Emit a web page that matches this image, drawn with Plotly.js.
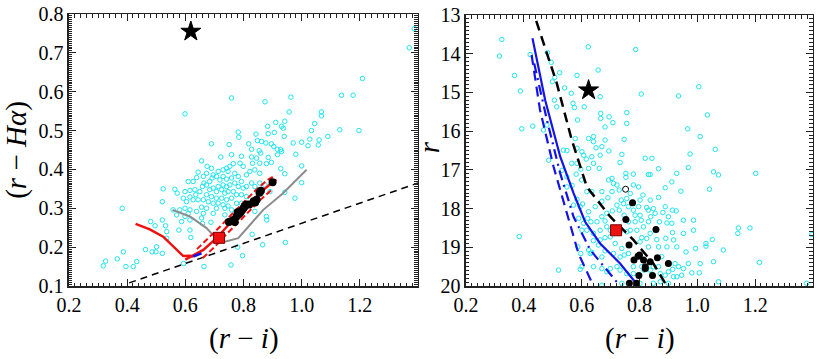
<!DOCTYPE html>
<html>
<head>
<meta charset="utf-8">
<script src="https://cdn.plot.ly/plotly-3.0.1.min.js"></script>
<style>
  body { margin: 0; background: #fff; }
  #plot { width: 830px; height: 359px; }
</style>
</head>
<body>
<div id="plot"></div>
<script>
// colour-colour panel: (r-i) vs (r-Halpha)
var ccCyanX = [1.387,1.37,0.599,0.759,0.874,0.963,1.209,1.137,1.177,1.068,1.068,0.957,1.131,1.197,1.09,1.045,1.034,1.06,1.028,1.022,1.057,1.0,0.971,0.98,1.0,1.0,0.942,0.942,0.977,0.944,0.866,0.83,0.797,0.78,0.757,0.664,0.594,0.318,0.326,0.366,0.396,0.421,0.433,0.387,0.463,0.486,0.501,0.499,0.521,0.383,0.481,0.496,0.521,0.521,0.524,0.532,0.536,0.536,0.578,0.587,0.616,0.616,0.619,0.659,0.688,0.942,0.931,0.937,0.94,0.928,0.931,0.928,0.88,
  0.69,0.782,0.784,0.751,0.843,0.883,0.911,0.906,0.885,0.848,0.862,0.877,0.896,0.904,0.916,0.917,0.818,0.828,0.854,0.859,0.759,0.793,0.828,0.845,0.885,0.896,0.879,0.856,0.831,0.722,0.656,0.765,0.788,0.799,0.742,0.753,0.747,0.73,0.713,0.696,0.675,0.673,0.69,0.644,0.639,0.627,0.61,0.564,0.572,0.599,0.616,0.633,0.636,0.65,0.662,0.664,0.659,0.673,0.684,0.692,0.707,0.719,0.73,0.742,0.759,0.77,0.782,0.793,0.81,0.822,0.839,0.856,0.828,0.839,0.856,0.874,0.891,0.81,0.799,0.782,0.77,0.753,0.742,0.73,0.713,0.696,0.684,0.707,0.725,0.736,0.747,0.765,0.776,0.793,0.81,0.759,0.742,0.725,0.707,0.69,0.673,0.662,0.644,0.627,0.616,0.604,0.593,0.679,0.696,0.713,0.73,0.747,0.776,0.793,0.673,0.656,0.707,0.736,0.759,0.696,0.662,0.639,0.616,0.599,0.581,0.558,0.57,0.61,0.736,0.776,0.839,0.879,0.599,0.656];
var ccCyanY = [0.762,0.713,0.543,0.584,0.574,0.586,0.634,0.591,0.591,0.548,0.538,0.548,0.502,0.5,0.485,0.518,0.5,0.476,0.478,0.461,0.463,0.47,0.468,0.439,0.409,0.366,0.389,0.341,0.326,0.212,0.206,0.233,0.178,0.2,0.154,0.15,0.158,0.152,0.164,0.17,0.15,0.15,0.163,0.188,0.194,0.188,0.201,0.188,0.184,0.3,0.266,0.255,0.27,0.317,0.35,0.255,0.223,0.24,0.244,0.266,0.27,0.244,0.225,0.261,0.264,0.524,0.511,0.506,0.485,0.451,0.446,0.402,0.27,
  0.466,0.496,0.483,0.464,0.491,0.511,0.521,0.495,0.492,0.474,0.472,0.468,0.466,0.459,0.452,0.438,0.466,0.452,0.448,0.442,0.438,0.434,0.432,0.429,0.431,0.418,0.415,0.416,0.416,0.432,0.422,0.415,0.416,0.408,0.403,0.408,0.395,0.399,0.395,0.386,0.408,0.39,0.403,0.393,0.379,0.369,0.369,0.349,0.339,0.343,0.346,0.348,0.335,0.343,0.382,0.365,0.356,0.36,0.369,0.378,0.382,0.373,0.382,0.375,0.378,0.39,0.382,0.369,0.386,0.395,0.399,0.39,0.365,0.356,0.365,0.36,0.343,0.356,0.352,0.356,0.365,0.36,0.356,0.36,0.356,0.352,0.348,0.343,0.348,0.339,0.343,0.343,0.335,0.335,0.33,0.326,0.322,0.326,0.326,0.33,0.335,0.322,0.322,0.322,0.329,0.317,0.326,0.317,0.313,0.313,0.309,0.306,0.313,0.313,0.3,0.303,0.3,0.3,0.296,0.287,0.287,0.292,0.296,0.3,0.296,0.296,0.283,0.287,0.283,0.283,0.292,0.279,0.279,0.275];

var ccDashX = [0.407, 1.4];
var ccDashY = [0.108, 0.365];
var ccGrayX = [0.556,0.616,0.673,0.702,0.736,0.782,0.822,0.868,0.936,1.017];
var ccGrayY = [0.296,0.279,0.249,0.2255,0.214,0.223,0.257,0.296,0.339,0.399];
var ccRedAX = [0.429,0.478,0.524,0.559,0.593,0.616,0.627];
var ccRedAY = [0.26,0.246,0.227,0.201,0.177,0.178,0.176];
var ccBlueX = [0.627,0.656];
var ccBlueY = [0.176,0.184];
var ccRedBX = [0.6,0.662,0.707,0.759,0.811,0.856,0.902,0.914];
var ccRedBY = [0.168,0.193,0.223,0.266,0.304,0.339,0.369,0.373];
var ccRedHiX = [0.64,0.68,0.72,0.76,0.8,0.84,0.88,0.91];
var ccRedHiY = [0.195,0.223,0.253,0.285,0.315,0.345,0.372,0.385];
var ccRedLoX = [0.66,0.7,0.74,0.78,0.82,0.86,0.9];
var ccRedLoY = [0.172,0.2,0.232,0.262,0.293,0.323,0.35];
var ccDotX = [0.765,0.776,0.78,0.79,0.8,0.81,0.82,0.835,0.845,0.855,0.86,0.9,0.785,0.77,0.795,0.805,0.84,0.75];
var ccDotY = [0.27,0.279,0.29,0.29,0.3,0.31,0.31,0.318,0.322,0.34,0.345,0.367,0.285,0.265,0.295,0.305,0.315,0.265];
var ccOpen = [0.747, 0.266];
var ccSquare = [0.716, 0.224];
var ccStar = [0.619, 0.755];

// colour-magnitude panel: (r-i) vs r
var cmCyanX = [0.324,0.316,0.368,0.388,0.393,0.384,0.422,0.431,0.482,0.495,0.499,0.507,0.524,0.541,0.564,0.584,0.609,0.57,0.575,0.586,0.623,0.657,0.664,0.666,0.666,0.681,0.708,0.756,0.747,0.787,0.806,0.935,1.005,1.035,0.967,1.01,1.062,0.975,0.969,0.929,0.912,0.889,0.943,1.042,1.056,1.073,1.202,1.142,1.14,1.182,1.215,1.396,1.378,1.09,1.052,1.03,1.03,0.994,0.987,0.961,0.929,0.914,0.891,0.881,0.914,0.927,0.854,0.839,0.831,0.825,0.843,0.82,0.831,0.866,0.779,0.753,0.753,0.733,0.739,0.694,0.67,0.681,0.641,0.65,0.664,0.635,0.607,0.601,0.616,0.641,0.661,0.624,0.597,0.581,0.6,0.618,0.635,0.67,0.693,0.705,0.71,0.722,0.73,0.705,0.691,0.67,0.647,0.624,0.603,0.595,0.572,0.584,0.549,0.737,0.745,0.756,0.762,0.779,0.797,0.785,0.802,0.806,0.785,0.762,0.747,0.73,0.722,0.706,0.687,0.67,0.681,0.653,0.632,0.618,0.641,0.664,0.687,0.699,0.699,0.681,0.733,0.756,0.768,0.791,0.814,0.831,0.837,0.825,0.808,0.802,0.831,0.86,0.866,0.877,0.739,0.747,0.762,0.733,0.71,0.716,0.681,0.67,0.658,0.635,0.624,0.601,0.641,0.67,0.699,0.687,0.722,0.733,0.756,0.779,0.779,0.808,0.816,0.837,0.848,0.866,0.872,0.889,0.9,0.915,0.923,0.935,0.946,0.952,0.969,0.981,1.007,1.01,1.056,1.073,0.918,0.929,0.9,0.848,0.872,0.802,0.739,0.67,0.52,0.595,0.63,0.597,0.587,0.641,0.601,0.59,0.607,0.621,0.664,0.567,0.549,0.532,0.584,0.566,0.549,0.537,0.506,0.514,0.48,0.468,0.486,0.578,0.584,0.624,0.641,0.695,0.756,0.837,0.866,0.889,0.779,0.797,0.812,0.768,0.802,0.837,0.848,0.869,0.895,0.912,0.9,0.952,0.987,0.952,0.918,0.895];
var cmCyanR = [13.63,14.06,14.56,14.96,15.94,18.72,14.02,15.87,13.97,14.22,14.72,14.61,14.49,14.88,15.02,14.56,15.37,15.28,15.39,15.71,13.82,14.42,15.11,15.54,15.67,15.89,15.78,15.8,16.21,13.89,15.04,15.09,14.85,15.58,15.94,16.14,16.47,16.59,16.94,17.09,17.31,17.46,17.55,17.5,17.05,17.13,17.09,18.5,18.64,18.5,19.39,18.67,19.93,19.07,18.8,18.9,18.97,19.03,18.56,19.12,18.99,18.62,18.77,18.1,18.04,18.06,18.12,18.21,18.04,17.97,16.7,16.7,17.12,16.97,17.11,17.09,17.19,16.81,16.6,16.51,16.4,16.23,16.27,16.43,16.62,16.66,16.62,16.53,16.72,16.83,16.96,16.96,16.98,17.11,17.26,17.56,17.56,17.56,17.26,17.22,17.35,17.39,17.52,17.56,17.72,17.81,17.95,18.08,17.88,17.95,17.91,17.76,17.44,17.78,17.87,17.74,17.95,18.04,17.95,18.17,18.17,18.3,18.34,18.34,18.17,18.04,17.91,18.06,18.12,18.21,18.32,18.34,18.34,18.56,18.64,18.56,18.47,18.56,18.73,18.75,18.6,18.6,18.56,18.56,18.47,18.34,18.64,18.77,18.75,18.86,18.99,18.8,18.99,19.24,19.03,19.2,19.16,19.25,19.16,18.9,19.09,19.25,18.94,19.13,19.07,19.5,19.5,19.55,19.55,19.63,19.5,19.59,19.68,19.68,19.5,19.5,19.59,19.59,19.5,19.5,19.68,19.72,19.63,19.57,19.42,19.5,19.72,19.55,19.42,19.66,19.66,19.42,19.37,19.89,19.76,19.76,19.93,19.93,19.89,19.93,19.93,19.98,19.59,19.57,19.16,19.16,18.99,18.83,18.56,18.25,18.38,18.25,18.81,17.4,17.18,17.01,16.83,16.83,16.5,16.49,15.2,15.37,15.84,15.97,16.75,16.19,16.44,16.19,16.14,15.63,15.52,17.12,17.71,17.95,17.39,17.44,17.65,17.61,17.78,17.78,18.0,18.34,18.37,18.38,18.21,18.3,18.3,18.64,18.81,18.99];

var cmDashX = [0.443,0.514,0.566,0.618,0.699,0.779,0.848,0.895];
var cmDashR = [13.15,14.76,16.23,17.44,18.21,18.81,19.42,20.0];
var cmBlueX = [0.43,0.474,0.526,0.572,0.612,0.664,0.733,0.796];
var cmBlueR = [13.6,15.2,16.66,17.6,18.34,18.9,19.42,20.0];
var cmBlueDotX = [0.436,0.48,0.526,0.572,0.63,0.687,0.733];
var cmBlueDotR = [14.25,15.71,17.09,18.21,19.07,19.59,20.0];
var cmBlueDashX = [0.427,0.456,0.503,0.549,0.589,0.641];
var cmBlueDashR = [14.03,15.45,16.92,18.12,19.16,20.0];
var cmDotX = [0.776,0.753,0.857,0.764,0.781,0.795,0.814,0.837,0.862,0.9,0.82,0.82,0.798,0.845,0.765,0.79,0.8];
var cmDotR = [17.85,18.28,18.54,18.94,19.33,19.23,19.33,19.37,19.27,19.42,19.5,19.55,19.73,19.73,19.93,19.93,19.2];
var cmOpen = [0.752, 17.5];
var cmSquare = [0.719, 18.56];
var cmStar = [0.624, 14.94];

var CYAN = '#1ee6ee';
var FONT = 'Liberation Serif, Times New Roman, serif';

function cyan(x, y, xa, ya) {
  return { x: x, y: y, xaxis: xa, yaxis: ya, type: 'scatter', mode: 'markers',
    marker: { symbol: 'circle-open', size: 4.5, color: CYAN, line: { width: 1 } }, hoverinfo: 'skip' };
}
function line(x, y, xa, ya, color, width, dash) {
  return { x: x, y: y, xaxis: xa, yaxis: ya, type: 'scatter', mode: 'lines',
    line: { color: color, width: width, dash: dash || 'solid' }, hoverinfo: 'skip' };
}
function dots(x, y, xa, ya, size) {
  return { x: x, y: y, xaxis: xa, yaxis: ya, type: 'scatter', mode: 'markers',
    marker: { symbol: 'circle', size: size, color: '#000' }, hoverinfo: 'skip' };
}
function one(p, xa, ya, symbol, size, color, lineColor) {
  return { x: [p[0]], y: [p[1]], xaxis: xa, yaxis: ya, type: 'scatter', mode: 'markers',
    marker: { symbol: symbol, size: size, color: color, line: { color: lineColor || color, width: 1 } }, hoverinfo: 'skip' };
}

var data = [
  cyan(ccCyanX, ccCyanY, 'x', 'y'),
  line(ccDashX, ccDashY, 'x', 'y', '#000', 1.5, '7px,5px'),
  line(ccGrayX, ccGrayY, 'x', 'y', '#8c8c8c', 2),
  line(ccRedAX, ccRedAY, 'x', 'y', '#ee1111', 2.5),
  line(ccRedBX, ccRedBY, 'x', 'y', '#ee1111', 2.5),
  line(ccRedHiX, ccRedHiY, 'x', 'y', '#ee1111', 2, '6px,3px'),
  line(ccRedLoX, ccRedLoY, 'x', 'y', '#ee1111', 2, '6px,3px'),
  line(ccBlueX, ccBlueY, 'x', 'y', '#1111ee', 2.5),
  dots(ccDotX, ccDotY, 'x', 'y', 8),
  one(ccOpen, 'x', 'y', 'circle-open', 5, '#000'),
  one(ccSquare, 'x', 'y', 'square', 11, '#ee1111', '#7a0000'),
  one(ccStar, 'x', 'y', 'star', 15, '#000'),

  cyan(cmCyanX, cmCyanR, 'x2', 'y2'),
  line(cmBlueDashX, cmBlueDashR, 'x2', 'y2', '#1414e6', 2.2, '10px,6px'),
  line(cmBlueDotX, cmBlueDotR, 'x2', 'y2', '#1414e6', 2.2, '10px,5px,2px,5px'),
  line(cmBlueX, cmBlueR, 'x2', 'y2', '#1414e6', 2.2),
  line(cmDashX, cmDashR, 'x2', 'y2', '#000', 2.5, '10px,6px'),
  dots(cmDotX, cmDotR, 'x2', 'y2', 7),
  one(cmOpen, 'x2', 'y2', 'circle-open', 6, '#000'),
  one(cmSquare, 'x2', 'y2', 'square', 11, '#ee1111', '#7a0000'),
  one(cmStar, 'x2', 'y2', 'star', 15, '#000')
];

var tickFont = { family: FONT, size: 20, color: '#000' };
var titleFont = { family: FONT, size: 29, color: '#000' };

function xAxis(domain, anchor) {
  return {
    domain: domain, anchor: anchor, range: [0.2, 1.4],
    tickvals: [0.2, 0.4, 0.6, 0.8, 1.0, 1.2], tickformat: '.1f',
    ticks: 'inside', ticklen: 7, tickwidth: 1, tickcolor: '#222',
    minor: { dtick: 0.02, tick0: 0.2, ticks: 'inside', ticklen: 3.5, tickwidth: 1, tickcolor: '#222' },
    mirror: 'allticks', showline: true, linewidth: 1.5, linecolor: '#222',
    showgrid: false, zeroline: false, tickfont: tickFont
  };
}

var layout = {
  width: 830, height: 359,
  margin: { l: 0, r: 0, t: 0, b: 0 },
  paper_bgcolor: '#fff', plot_bgcolor: '#fff',
  showlegend: false,
  xaxis: xAxis([0.0831, 0.5036], 'y'),
  xaxis2: xAxis([0.5614, 0.9795], 'y2'),
  yaxis: {
    domain: [0.2033, 0.961], anchor: 'x', range: [0.1, 0.8],
    dtick: 0.1, tick0: 0.1, tickformat: '.1f',
    ticks: 'inside', ticklen: 7, tickwidth: 1, tickcolor: '#222',
    minor: { dtick: 0.005, ticks: 'inside', ticklen: 3.5, tickwidth: 1, tickcolor: '#222' },
    mirror: 'allticks', showline: true, linewidth: 1.5, linecolor: '#222',
    showgrid: false, zeroline: false, tickfont: tickFont
  },
  yaxis2: {
    domain: [0.2033, 0.958], anchor: 'x2', range: [20, 13],
    dtick: 1, tickformat: 'd',
    ticks: 'inside', ticklen: 7, tickwidth: 1, tickcolor: '#222',
    minor: { dtick: 0.1, ticks: 'inside', ticklen: 3.5, tickwidth: 1, tickcolor: '#222' },
    mirror: 'allticks', showline: true, linewidth: 1.5, linecolor: '#222',
    showgrid: false, zeroline: false, tickfont: tickFont
  },
  annotations: [
    { text: '(<i>r</i> − <i>i</i>)', xref: 'paper', yref: 'paper', x: 0.2934, y: 0.058,
      xanchor: 'center', yanchor: 'middle', showarrow: false, font: titleFont },
    { text: '(<i>r</i> − <i>i</i>)', xref: 'paper', yref: 'paper', x: 0.7705, y: 0.058,
      xanchor: 'center', yanchor: 'middle', showarrow: false, font: titleFont },
    { text: '(<i>r</i> − <i>Hα</i>)', xref: 'paper', yref: 'paper', x: 0.019, y: 0.582,
      xanchor: 'center', yanchor: 'middle', textangle: -90, showarrow: false, font: titleFont },
    { text: '<i>r</i>', xref: 'paper', yref: 'paper', x: 0.517, y: 0.59,
      xanchor: 'center', yanchor: 'middle', textangle: -90, showarrow: false, font: titleFont }
  ]
};

Plotly.newPlot('plot', data, layout, { staticPlot: true, displayModeBar: false });
</script>
</body>
</html>
